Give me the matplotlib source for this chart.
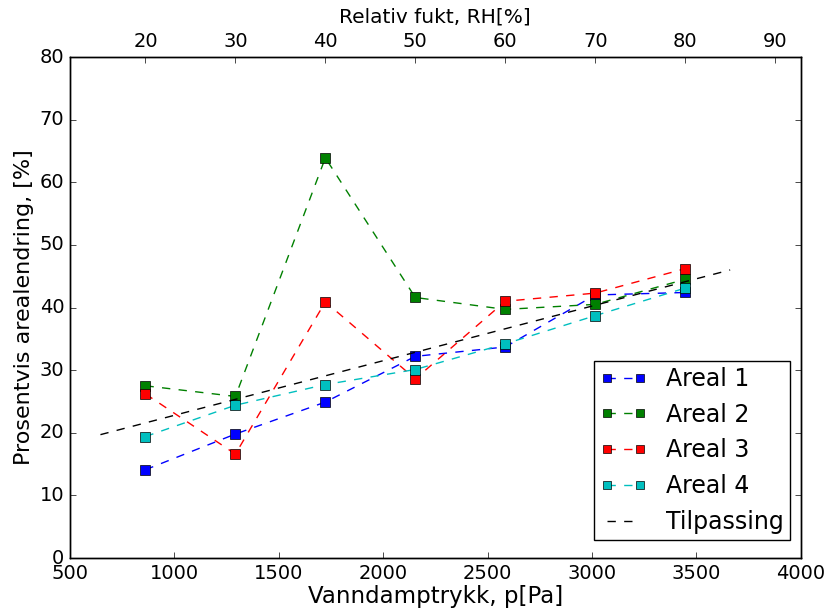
import matplotlib
matplotlib.use("Agg")
import matplotlib.pyplot as plt

plt.style.use('classic')
plt.rcParams['font.family'] = ['DejaVu Sans']

rh = [20, 30, 40, 50, 60, 70, 80]
psat = 4308.0
pressure = [r * psat / 100.0 for r in rh]

areal1 = [14.1, 19.8, 24.9, 32.2, 33.7, 42.0, 42.4]
areal2 = [27.5, 25.8, 63.9, 41.6, 39.7, 40.5, 44.5]
areal3 = [26.2, 16.6, 40.9, 28.6, 41.0, 42.3, 46.2]
areal4 = [19.4, 24.4, 27.7, 30.1, 34.2, 38.7, 43.1]

fit_x = [646, 3662]
fit_y = [19.7, 46.0]

series = [("Areal 1", areal1, 'b'), ("Areal 2", areal2, 'g'),
          ("Areal 3", areal3, 'r'), ("Areal 4", areal4, 'c')]

fig = plt.figure(figsize=(8.32, 6.11), dpi=100, facecolor='white')
ax = fig.add_axes([0.0841, 0.0867, 0.8783, 0.82])
for name, vals, col in series:
    ax.plot(pressure, vals, '--s', color=col, markerfacecolor=col,
            markersize=6.5, label=name)
ax.plot(fit_x, fit_y, 'k--', label='Tilpassing')

ax.set_xlim(500, 4000)
ax.set_ylim(0, 80)
ax.set_xlabel('Vanndamptrykk, p[Pa]', fontsize=16.5, labelpad=2)
ax.set_ylabel('Prosentvis arealendring, [%]', fontsize=16, labelpad=4)
ax.tick_params(labelsize=14)
leg = ax.legend(loc='lower right', numpoints=2, fontsize=17,
                markerscale=0.85, borderaxespad=0.0, borderpad=0.25,
                bbox_to_anchor=(0.985, 0.036))

ax2 = ax.twiny()
ax2.set_xlim(500 / psat * 100, 4000 / psat * 100)
ax2.set_xticks([20, 30, 40, 50, 60, 70, 80, 90])
ax2.tick_params(labelsize=14)
ax2.set_xlabel('Relativ fukt, RH[%]', fontsize=14.5, labelpad=7)

fig.savefig('out.png', dpi=100, facecolor='white')
